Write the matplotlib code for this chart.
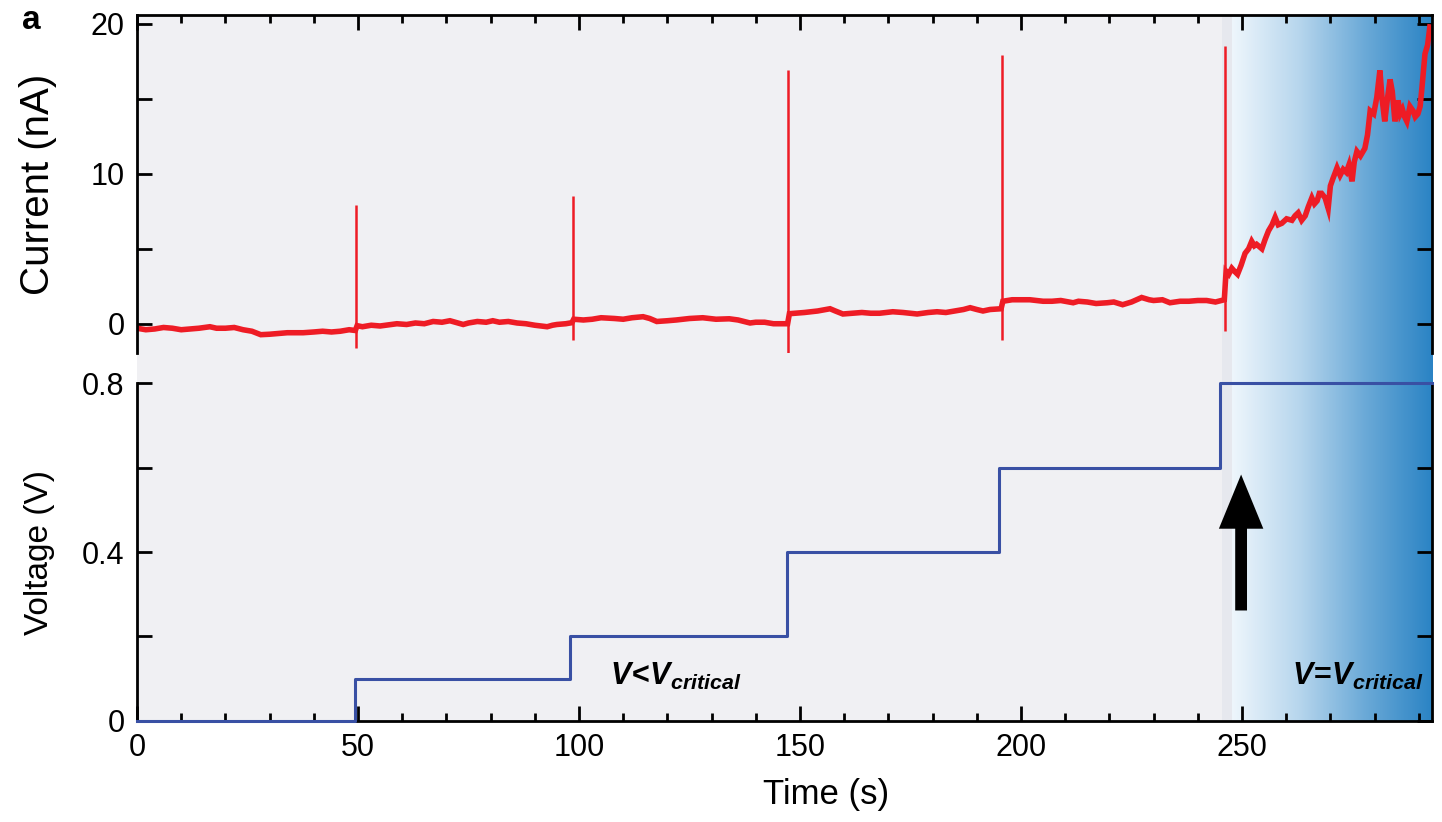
import numpy as np
import matplotlib.pyplot as plt
from matplotlib.colors import LinearSegmentedColormap

plt.rcParams['font.family'] = ['Liberation Sans', 'DejaVu Sans']
plt.rcParams['mathtext.fontset'] = 'custom'
plt.rcParams['mathtext.rm'] = 'Liberation Sans:bold'
plt.rcParams['mathtext.it'] = 'Liberation Sans:italic:bold'
plt.rcParams['mathtext.bf'] = 'Liberation Sans:bold'

# ##### DATA ######

# current trace (s, nA), read point by point
t_current = [0, 2, 4, 6, 8, 10, 12, 14, 16.5, 18, 20, 22, 24, 26, 28, 30, 32, 34, 37.6, 40, 42, 44, 46, 48, 49.4,
             49.8, 51, 53, 55, 58.8, 61, 63, 65, 67, 69, 70.8, 72, 73.8, 75, 77, 79, 80.5, 82, 84, 86, 88,
             90, 92.8, 94, 95, 97, 98.4,
             98.8, 101, 103, 105, 108, 110, 112, 114.5, 116, 117.6, 120, 122, 125, 128, 131, 134, 136, 138.7,
             140, 142, 144, 147.2,
             147.6, 149, 151, 154, 156.8, 158, 159.7, 162, 164, 166, 168, 171, 173.3, 175, 176.5, 179, 181,
             183, 185, 187, 188.5, 190, 191.4, 193, 195.5,
             195.9, 198, 202, 205, 207, 209, 211.8, 213, 215, 217, 219.5, 221, 223, 225, 227.3, 229, 230,
             232, 233.7, 236, 238, 240, 242, 244, 246.0,
             246.4, 247, 247.7, 248.3, 249, 249.8, 250.7, 251.5, 252.2, 252.8, 253.3, 254.5, 255.2, 256,
             256.8, 257.5, 258.2, 259, 260.1, 261.3, 262.0, 262.7, 263.5, 264.3, 265.0, 265.8, 266.4, 267,
             267.5, 268, 268.8, 269.5, 270.0, 270.6, 271.5, 272.2, 272.9, 273.6, 274.2, 274.9, 275.4, 276,
             276.8, 277.8, 278.4, 279, 279.8, 280.5, 281.2, 281.7, 282.3, 282.9, 283.5, 284.0, 284.6, 285.3,
             285.8, 286.3, 286.8, 287.3, 288.0, 288.7, 289.2, 289.8, 290.3, 290.7, 291.4, 292.0, 292.5]
current = [-0.3, -0.4, -0.35, -0.25, -0.3, -0.4, -0.35, -0.3, -0.2, -0.3, -0.3, -0.25, -0.4, -0.5, -0.73, -0.7, -0.65, -0.6, -0.6, -0.55, -0.5, -0.55, -0.5, -0.4, -0.45,
           -0.13, -0.2, -0.1, -0.15, 0.0, -0.05, 0.05, 0.0, 0.15, 0.1, 0.2, 0.1, -0.05, 0.05, 0.15, 0.1, 0.2, 0.1, 0.15, 0.05, 0.0,
           -0.1, -0.2, -0.1, -0.05, 0.0, 0.07,
           0.3, 0.25, 0.3, 0.4, 0.35, 0.3, 0.4, 0.47, 0.35, 0.15, 0.2, 0.25, 0.35, 0.4, 0.3, 0.33, 0.25, 0.05,
           0.1, 0.1, 0.0, 0.0,
           0.67, 0.7, 0.75, 0.85, 1.0, 0.85, 0.65, 0.7, 0.75, 0.7, 0.7, 0.8, 0.75, 0.7, 0.65, 0.75, 0.8,
           0.75, 0.85, 0.95, 1.07, 0.95, 0.85, 0.95, 1.0,
           1.5, 1.6, 1.6, 1.5, 1.5, 1.55, 1.4, 1.5, 1.45, 1.35, 1.4, 1.45, 1.27, 1.45, 1.75, 1.6, 1.55,
           1.6, 1.4, 1.5, 1.5, 1.55, 1.55, 1.45, 1.6,
           3.5, 3.3, 3.7, 3.5, 3.3, 3.9, 4.7, 5.0, 5.5, 5.2, 5.3, 5.0, 5.6, 6.2,
           6.6, 7.1, 6.6, 6.7, 7.0, 6.9, 7.2, 7.4, 6.9, 7.2, 7.8, 8.4, 8.0, 8.2,
           8.7, 8.7, 8.4, 7.7, 9.2, 9.7, 10.4, 9.9, 10.3, 10.1, 10.6, 9.5, 10.8, 11.5,
           11.2, 11.7, 12.6, 14.2, 14.0, 15.1, 16.9, 15.0, 13.5, 15.0, 16.3, 15.5, 13.5, 14.9,
           14.0, 14.3, 13.8, 13.5, 14.5, 14.2, 13.8, 14.0, 14.5, 15.7, 18.0, 18.6, 19.8]

# transient spikes at each voltage step
spike_t = [49.6, 98.6, 147.4, 195.7, 246.2]
spike_top = [7.9, 8.5, 16.9, 17.9, 18.5]
spike_bottom = [-1.65, -1.1, -2.0, -1.1, -0.5]

# applied voltage steps (s, V)
step_t = [0, 49.3, 98, 147, 195, 245, 293]
step_v = [0, 0.1, 0.2, 0.4, 0.6, 0.8, 0.8]

t_critical = 247.7
t_max = 293

#####################

red = '#ee1c25'
blue = '#3950a4'

fig = plt.figure(figsize=(14.42, 8.22), dpi=100)
left, width = 0.095, 0.8981
bg = fig.add_axes([left, 0.1229, width, 0.9818 - 0.1229], zorder=0)
ax1 = fig.add_axes([left, 0.5706, width, 0.9818 - 0.5706], zorder=1)
ax2 = fig.add_axes([left, 0.1229, width, 0.534 - 0.1229], zorder=1)

# background: grey region + blue gradient for V = V_critical
bg.set_xlim(0, t_max)
bg.set_ylim(0, 1)
bg.axis('off')
bg.axvspan(0, t_critical, color='#f0f0f3', lw=0)
bg.axvspan(245.5, t_critical, color='#e6e8ee', lw=0)
cmap = LinearSegmentedColormap.from_list('crit', ['#eef6fc', '#b7d6ed', '#6aa9d7', '#2a83c4'])
grad = np.linspace(0, 1, 256).reshape(1, -1)
bg.imshow(grad, cmap=cmap, extent=[t_critical, t_max, 0, 1], aspect='auto')

# top panel: current
ax1.plot(t_current, current, color=red, lw=4, solid_joinstyle='miter')
ax1.vlines(spike_t, spike_bottom, spike_top, color=red, lw=1.8)
ax1.set_xlim(0, t_max)
ax1.set_ylim(-1.95, 20.6)
ax1.set_facecolor('none')
ax1.spines['bottom'].set_visible(False)
ax1.set_yticks([0, 5, 10, 15, 20])
ax1.set_yticklabels(['0', '', '10', '', '20'])
ax1.set_xticks(np.arange(0, 300, 50))
ax1.set_xticks(np.arange(0, 293, 10), minor=True)
ax1.tick_params(axis='x', which='both', bottom=False, top=True, labelbottom=False)
ax1.set_ylabel('Current (nA)', fontsize=29)
ax1.yaxis.set_label_coords(-0.062, 0.5)

# bottom panel: voltage
ax2.plot(step_t, step_v, color=blue, lw=2.2, drawstyle='steps-post', clip_on=False, zorder=3)
ax2.set_xlim(0, t_max)
ax2.set_ylim(0, 0.8)
ax2.set_facecolor('none')
ax2.spines['top'].set_visible(False)
ax2.set_yticks([0, 0.2, 0.4, 0.6, 0.8])
ax2.set_yticklabels(['0', '', '0.4', '', '0.8'])
ax2.set_xticks(np.arange(0, 300, 50))
ax2.set_xticks(np.arange(0, 293, 10), minor=True)
ax2.tick_params(axis='x', which='both', top=False)
ax2.set_xlabel('Time (s)', fontsize=25)
ax2.xaxis.set_label_coords(0.532, -0.17)
ax2.set_ylabel('Voltage (V)', fontsize=24)
ax2.yaxis.set_label_coords(-0.063, 0.5)

for ax in (ax1, ax2):
    for sp in ax.spines.values():
        sp.set_linewidth(2)
    ax.tick_params(which='both', direction='in', width=2, labelsize=22, right=True, pad=9)
    ax.tick_params(which='major', length=11)
    ax.tick_params(which='minor', length=6)

ax2.annotate('', xy=(249.8, 0.59), xytext=(249.8, 0.255),
             arrowprops=dict(arrowstyle='simple,head_width=3.2,head_length=3.9,tail_width=0.85',
                             mutation_scale=10, color='black', lw=0))
ax2.text(107, 0.085, r'$V\!<\!V_{critical}$', fontsize=22)
ax2.text(291, 0.085, r'$V\!=\!V_{critical}$', fontsize=22, ha='right')

fig.text(0.015, 0.965, 'a', fontsize=24, fontweight='bold')

plt.savefig('out.png', dpi=100)
